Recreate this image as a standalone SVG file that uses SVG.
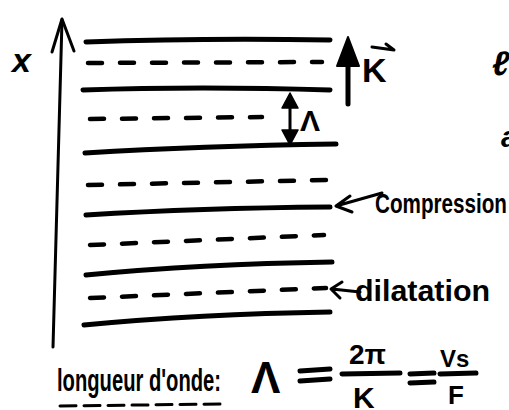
<svg xmlns="http://www.w3.org/2000/svg" width="509" height="410" viewBox="0 0 509 410">
<defs>
<style>
.s{stroke:#000;stroke-width:5;stroke-linecap:round;fill:none}
.d{stroke:#000;stroke-width:4.5;stroke-linecap:round;fill:none;stroke-dasharray:14 18}
.t{font-family:"Liberation Sans",Arial,sans-serif;font-weight:bold;fill:#000}
.thin{stroke:#000;stroke-width:3;stroke-linecap:round;stroke-linejoin:round;fill:none}
</style>
</defs>
<rect width="509" height="410" fill="#fff"/>
<g id="axis">
<path class="thin" d="M62 20 L53 347"/>
<path class="thin" d="M52 52 L62 19 L74 51"/>
<text class="t" x="12" y="72" font-size="34" font-style="italic">x</text>
</g>
<g id="planes">
<path class="s" d="M86 42 Q200 38 330 40"/>
<path class="d" d="M88 63 L322 62"/>
<path class="s" d="M83 90 Q200 86 330 90"/>
<path class="d" d="M90 119 L262 117"/>
<path class="s" d="M85 153 Q200 146 336 144"/>
<path class="d" d="M88 185 L326 180"/>
<path class="s" d="M86 215 Q200 208 330 207"/>
<path class="d" d="M90 245 L324 235"/>
<path class="s" d="M86 275 Q200 264 332 262"/>
<path class="d" d="M90 298 L326 288"/>
<path class="s" d="M84 325 Q200 314 330 312"/>
</g>
<g id="wavevector">
<path class="s" d="M348 104 L348 60" stroke-width="6"/>
<path d="M337 66 L348 37 L359 66 Z" fill="#000" stroke="#000" stroke-width="2" stroke-linejoin="round"/>
<text class="t" x="362" y="82" font-size="34">K</text>
<path class="thin" d="M372 47 L394 50 L386 44"/>
</g>
<g id="period">
<path class="thin" d="M290 96 L290 142"/>
<path d="M282 108 L290 93 L298 108 Z M282 130 L290 145 L298 130 Z" fill="#000" stroke="#000" stroke-width="1.5" stroke-linejoin="round"/>
<text class="t" x="300" y="131" font-size="30">Λ</text>
</g>
<g id="compression">
<path class="thin" d="M382 193 L336 206 M350 196 L336 206 L352 212"/>
<text class="t" x="375" y="213" font-size="27" textLength="132" lengthAdjust="spacingAndGlyphs">Compression</text>
</g>
<g id="dilatation">
<path class="thin" d="M360 292 L332 289 M342 282 L331 289 L340 298"/>
<text class="t" x="355" y="301" font-size="29" textLength="135" lengthAdjust="spacingAndGlyphs">dilatation</text>
</g>
<g id="edge">
<text class="t" x="492" y="75" font-size="34" font-style="italic">ℓ</text>
<text class="t" x="501" y="147" font-size="30" font-style="italic">a</text>
</g>
<g id="formula">
<text class="t" x="57" y="391" font-size="31" font-weight="normal" textLength="164" lengthAdjust="spacingAndGlyphs">longueur d'onde:</text>
<path class="thin" d="M60 406 L222 404" stroke-dasharray="16 8"/>
<text class="t" x="251" y="393" font-size="44" font-weight="normal">Λ</text>
<path class="s" d="M300 371 L330 369 M300 381 L330 379"/>
<text class="t" x="349" y="364" font-size="28">2π</text>
<path class="s" d="M342 374 L400 373"/>
<text class="t" x="353" y="408" font-size="30">K</text>
<path class="s" d="M410 374 L434 373 M410 383 L434 382" stroke-width="4"/>
<text class="t" x="440" y="367" font-size="24">Vs</text>
<path class="s" d="M440 374 L476 373" stroke-width="4"/>
<text class="t" x="448" y="404" font-size="26">F</text>
</g>
</svg>
